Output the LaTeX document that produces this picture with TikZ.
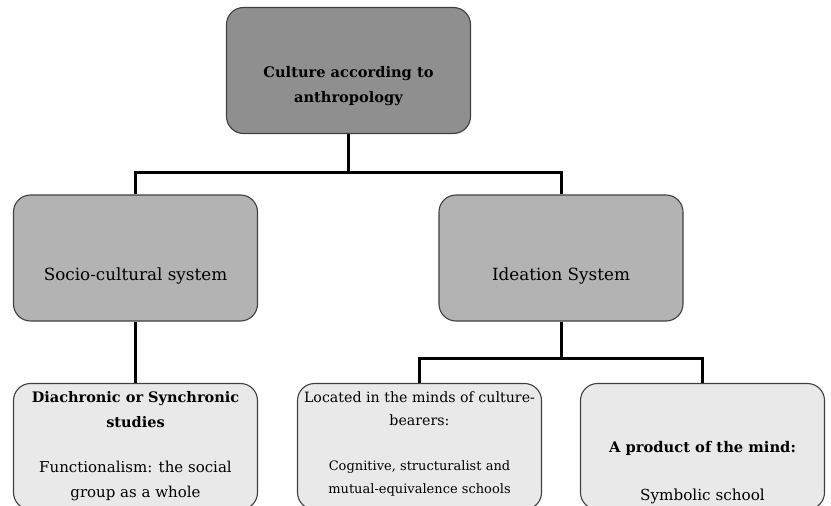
\documentclass[tikz,border=0pt]{standalone}
\usepackage{fontspec}
\setmainfont{DejaVu Serif}
\definecolor{topfill}{RGB}{143,143,143}
\definecolor{midfill}{RGB}{179,179,179}
\definecolor{lowfill}{RGB}{233,233,233}
\definecolor{edge}{RGB}{64,64,64}
\begin{document}
\begin{tikzpicture}[x=1pt,y=-1pt,
  box/.style={draw=edge,line width=1.1pt,rounded corners=17pt,minimum width=244pt,minimum height=126pt,inner sep=0pt},
  topbox/.style={box,fill=topfill},
  midbox/.style={box,fill=midfill},
  lowbox/.style={box,fill=lowfill},
  txt/.style={align=center,inner sep=0pt,text=black},
  link/.style={line width=3pt,black}]
\useasboundingbox (0,0) rectangle (831,506);
\clip (0,0) rectangle (831,506);
% boxes
\node[topbox] (top) at (348.5,70.5) {};
\node[midbox] (soc) at (135.5,258) {};
\node[midbox] (ide) at (561,258) {};
\node[lowbox] (dia) at (135.5,446.5) {};
\node[lowbox] (loc) at (419.5,446.5) {};
\node[lowbox] (prod) at (702.5,446.5) {};
% connector joints
\coordinate (j1) at (348.5,172);
\coordinate (j2) at (561,358);
% connectors
\draw[link] (top.south) -- (j1);
\draw[link] (soc.north) |- (j1) -| (ide.north);
\draw[link] (soc.south) -- (dia.north);
\draw[link] (ide.south) -- (j2);
\draw[link] (loc.north) |- (j2) -| (prod.north);
% texts
\node[txt,font=\fontsize{14.6}{25}\selectfont\bfseries] (ttop) at (348.5,86.5) {Culture according to\\anthropology};
\node[txt,font=\fontsize{16.8}{18}\selectfont] (tsoc) at (135.5,276) {Socio-cultural system};
\node[txt,font=\fontsize{16.8}{18}\selectfont] (tide) at (561,276) {Ideation System};
\node[txt,font=\fontsize{14.5}{25}\selectfont] (tdia) at (135.5,446.5) {\textbf{Diachronic or Synchronic}\\\textbf{studies}\\[20pt]{\fontsize{15}{25}\selectfont Functionalism: the social}\\{\fontsize{15}{25}\selectfont group as a whole}};
\node[txt,font=\fontsize{14.2}{23}\selectfont] (tloc) at (419.5,443.5) {Located in the minds of culture-\\bearers:\\[22pt]{\fontsize{13}{23}\selectfont Cognitive, structuralist and}\\{\fontsize{13}{23}\selectfont mutual-equivalence schools}};
\node[txt,font=\fontsize{14.7}{48}\selectfont] (tprod) at (702.5,473) {\textbf{A product of the mind:}\\{\fontsize{15.2}{48}\selectfont Symbolic school}};
\end{tikzpicture}
\end{document}
